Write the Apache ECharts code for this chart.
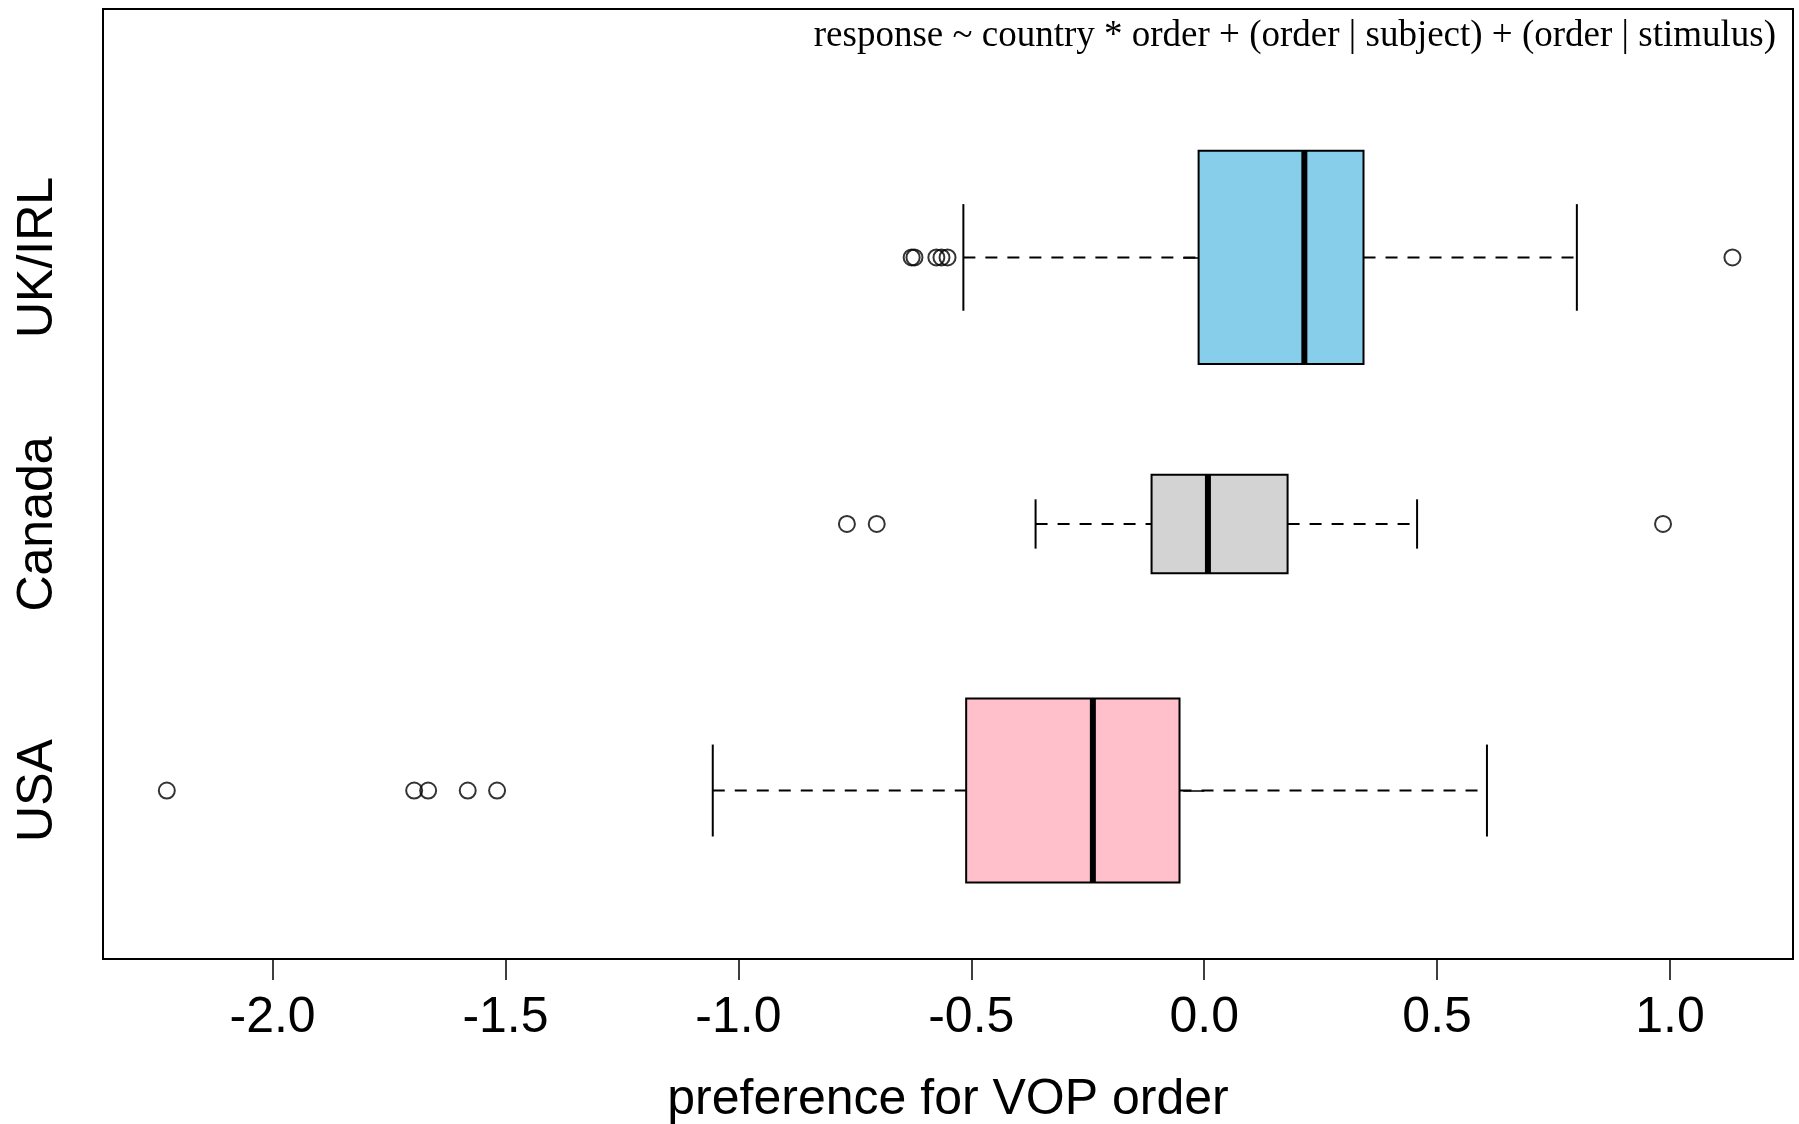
<!DOCTYPE html>
<html>
<head>
<meta charset="utf-8">
<title>preference for VOP order</title>
<script src="https://cdn.jsdelivr.net/npm/echarts@6/dist/echarts.min.js"></script>
<style>
  html, body { margin: 0; padding: 0; background: #fff; }
  #box_chart { width: 1799px; height: 1124px; }
</style>
</head>
<body>
<div id="box_chart"></div>
<script>
  // groups, bottom to top (y = 1, 2, 3)
  const countries = ['USA', 'Canada', 'UK/IRL']
  const lowerWhisker = [-1.055, -0.362, -0.517]
  const lowerQuartile = [-0.511, -0.113, -0.012]
  const median = [-0.239, 0.008, 0.215]
  const upperQuartile = [-0.053, 0.179, 0.342]
  const upperWhisker = [0.607, 0.457, 0.800]
  const outliersUSA = [-2.227, -1.696, -1.666, -1.581, -1.518]
  const outliersCanada = [-0.767, -0.703, 0.985]
  const outliersUK = [-0.628, -0.622, -0.575, -0.564, -0.551, 1.134]
  const xTicks = [-2.0, -1.5, -1.0, -0.5, 0.0, 0.5, 1.0]
  const yTicks = [1, 2, 3]

  // box look (varwidth boxes, width in y units)
  const boxWidths = [0.69, 0.37, 0.80]
  const boxColors = ['#FFC0CB', '#D3D3D3', '#87CEEB']

  const boxData = countries.map((c, i) => [
    i + 1, lowerWhisker[i], lowerQuartile[i], median[i], upperQuartile[i], upperWhisker[i]
  ])
  const outlierData = []
  ;[outliersUSA, outliersCanada, outliersUK].forEach((list, i) => {
    list.forEach((v) => outlierData.push([v, i + 1]))
  })

  const sans = 'Liberation Sans, Arial, Helvetica, sans-serif'
  const chart = echarts.init(document.getElementById('box_chart'))

  chart.setOption({
    animation: false,
    backgroundColor: '#fff',
    title: {
      text: 'response ~ country * order + (order | subject) + (order | stimulus)',
      right: 18,
      top: 13,
      textStyle: {
        fontFamily: 'Liberation Serif, Times New Roman, serif',
        fontWeight: 'normal',
        fontSize: 37,
        color: '#000'
      }
    },
    grid: {
      left: 103,
      top: 9,
      width: 1690,
      height: 950,
      outerBoundsMode: 'none',
      containLabel: false,
      show: true,
      borderColor: '#000',
      borderWidth: 2,
      backgroundColor: 'transparent'
    },
    xAxis: {
      type: 'value',
      min: -2.364,
      max: 1.264,
      name: 'preference for VOP order',
      nameLocation: 'middle',
      nameGap: 116,
      nameTextStyle: { fontFamily: sans, fontSize: 50, color: '#000' },
      axisLine: { show: false },
      splitLine: { show: false },
      axisTick: {
        show: true,
        length: 21,
        customValues: xTicks,
        lineStyle: { color: '#000', width: 1.5 }
      },
      axisLabel: {
        customValues: xTicks,
        margin: 34,
        fontFamily: sans,
        fontSize: 50,
        color: '#000',
        formatter: (v) => v.toFixed(1)
      }
    },
    yAxis: {
      type: 'value',
      min: 0.368,
      max: 3.932,
      axisLine: { show: false },
      splitLine: { show: false },
      axisTick: {
        show: true,
        length: 21,
        customValues: yTicks,
        lineStyle: { color: '#000', width: 1.5 }
      },
      axisLabel: {
        customValues: yTicks,
        rotate: 90,
        margin: 40,
        fontFamily: sans,
        fontSize: 50,
        color: '#000',
        formatter: (v) => countries[Math.round(v) - 1] || ''
      }
    },
    series: [
      {
        type: 'custom',
        data: boxData,
        encode: { x: [1, 2, 3, 4, 5], y: 0 },
        renderItem: (params, api) => {
          const i = params.dataIndex
          const y = api.value(0)
          const half = api.size([0, boxWidths[i]])[1] / 2
          const pLo = api.coord([api.value(1), y])
          const pQ1 = api.coord([api.value(2), y])
          const pMed = api.coord([api.value(3), y])
          const pQ3 = api.coord([api.value(4), y])
          const pHi = api.coord([api.value(5), y])
          const cy = pMed[1]
          const dashed = { stroke: '#000', lineWidth: 2, lineDash: [12, 10] }
          const solid = { stroke: '#000', lineWidth: 2 }
          return {
            type: 'group',
            children: [
              { type: 'line', shape: { x1: pLo[0], y1: cy, x2: pQ1[0], y2: cy }, style: dashed },
              { type: 'line', shape: { x1: pQ3[0], y1: cy, x2: pHi[0], y2: cy }, style: dashed },
              { type: 'line', shape: { x1: pLo[0], y1: cy - half / 2, x2: pLo[0], y2: cy + half / 2 }, style: solid },
              { type: 'line', shape: { x1: pHi[0], y1: cy - half / 2, x2: pHi[0], y2: cy + half / 2 }, style: solid },
              {
                type: 'rect',
                shape: { x: pQ1[0], y: cy - half, width: pQ3[0] - pQ1[0], height: half * 2 },
                style: { fill: boxColors[i], stroke: '#000', lineWidth: 2 }
              },
              {
                type: 'line',
                shape: { x1: pMed[0], y1: cy - half, x2: pMed[0], y2: cy + half },
                style: { stroke: '#000', lineWidth: 6 }
              }
            ]
          }
        }
      },
      {
        type: 'scatter',
        data: outlierData,
        symbol: 'circle',
        symbolSize: 16,
        itemStyle: { color: 'transparent', borderColor: '#000', borderWidth: 2 }
      }
    ]
  })
</script>
</body>
</html>
